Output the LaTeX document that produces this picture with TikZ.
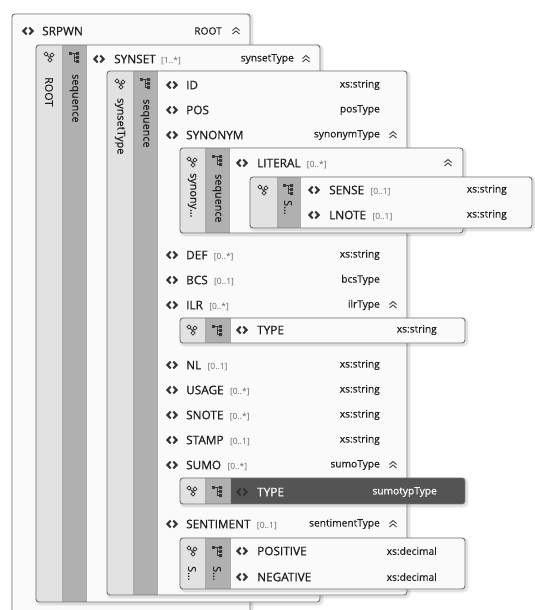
\documentclass[tikz,border=0pt]{standalone}
\usepackage{fontspec}
\setmainfont{Open Sans}
\newfontface\namefont{Open Sans}[FakeBold=0.7]
\newfontface\typefont{Open Sans}[FakeBold=0.3]
\usepackage{tikz}
\usetikzlibrary{positioning,calc}

\definecolor{frameGray}{RGB}{112,112,112}
\definecolor{paneWhite}{RGB}{250,250,250}
\definecolor{stripLight}{RGB}{226,226,226}
\definecolor{stripDark}{RGB}{176,176,176}
\definecolor{selDark}{RGB}{84,84,84}
\definecolor{inkGray}{RGB}{30,30,30}

\tikzset{
  halo/.style={
    preaction={draw=black, line width=5pt, opacity=0.04, transform canvas={xshift=1.5pt, yshift=-1.5pt}},
    preaction={draw=black, line width=2.5pt, opacity=0.08, transform canvas={xshift=1.5pt, yshift=-1.5pt}}},
  frame/.style={draw=frameGray, line width=0.9pt, rounded corners=3pt},
  elname/.style={anchor=west, inner sep=0pt, text=inkGray, font=\namefont\fontsize{11.8}{13}\selectfont},
  occur/.style={inner sep=0pt, text=black!60, font=\fontsize{8.5}{10}\selectfont},
  typename/.style={anchor=east, inner sep=0pt, text=inkGray, font=\typefont\fontsize{10.2}{12}\selectfont},
  striptext/.style={anchor=west, rotate=-90, inner sep=0pt, text=inkGray, font=\typefont\fontsize{10.8}{12}\selectfont},
  elicon/.pic={
    \draw[black!80, line width=2pt, line join=miter, pic actions]
      (-1.3,-3.4) -- (-4.6,0) -- (-1.3,3.4) (1.3,-3.4) -- (4.6,0) -- (1.3,3.4);},
  foldicon/.pic={
    \draw[black!75, line width=0.9pt]
      (-3.5,-0.5) -- (0,-3.5) -- (3.5,-0.5) (-3.5,3) -- (0,0) -- (3.5,3);},
  modelicon/.pic={
    \draw[black!75, line width=0.8pt] (-3,-3) -- (3,3) (3,-2) -- (0,1);
    \draw[black!75, line width=0.9pt, fill=white]
      (-3,-5) -- (-1,-3) -- (-3,-1) -- (-5,-3) -- cycle
      (3,-4) -- (5,-2) -- (3,0) -- (1,-2) -- cycle
      (1,1) -- (3,3) -- (1,5) -- (-1,3) -- cycle;},
  seqicon/.pic={
    \fill[black!78] (-5,-5) rectangle (-2,-2);
    \draw[black!78, line width=0.8pt] (-2,-3.5) -- (2,-3.5) (0,-3.5) -- (0,4.5)
      (0,0.5) -- (2,0.5) (0,4.5) -- (2,4.5);
    \fill[black!78] (2,-5) rectangle (5,-2) (2,-1) rectangle (5,2) (2,3) rectangle (5,6);},
}

% pane with the two grey strips: [row fill] x1 y1 x2 y2 split1 split2
\newcommand{\typepane}[7][paneWhite]{%
  \fill[halo, paneWhite, rounded corners=3pt] (#2,#3) rectangle (#4,#5);
  \begin{scope}
    \clip[rounded corners=3pt] (#2,#3) rectangle (#4,#5);
    \fill[stripLight] (#2,#3) rectangle (#6,#5);
    \fill[stripDark] (#6,#3) rectangle (#7,#5);
    \fill[#1] (#7,#3) rectangle (#4,#5);
    \draw[frameGray!60, line width=0.5pt] (#6,#3) -- (#6,#5) (#7,#3) -- (#7,#5);
  \end{scope}
  \draw[frame] (#2,#3) rectangle (#4,#5);
}

\begin{document}
\begin{tikzpicture}[x=1pt, y=-1pt]
  \useasboundingbox (0,0) rectangle (535,610);
  \clip (0,0) rectangle (535,610);

  % SRPWN element
  \fill[halo, paneWhite, rounded corners=3pt] (12,14) rectangle (250,640);
  \draw[frame] (12,14) rectangle (250,640);
  \pic at (28,31) {elicon};
  \node[elname] (srpwn) at (42,31) {SRPWN};
  \node[typename] (srpwnTy) at (222,31) {ROOT};
  \pic at (236,31) {foldicon};

  % ROOT content
  \typepane{36}{45}{320}{602}{62}{86}
  \pic at (49,57) {modelicon};
  \pic at (74,57) {seqicon};
  \node[striptext] (rootLbl) at (49,77) {ROOT};
  \node[striptext] (rootSeq) at (74,74) {sequence};
  \pic at (99,59) {elicon};
  \node[elname] (synset) at (114,59) {SYNSET};
  \node[occur, right=5pt of synset.base east, anchor=base west] (synsetOcc) {[1..*]};
  \node[typename] (synsetTy) at (294,59) {synsetType};
  \pic at (306,59) {foldicon};

  % synsetType content
  \typepane{107}{71}{407}{595}{133}{157}
  \pic at (120,84) {modelicon};
  \pic at (145,83) {seqicon};
  \node[striptext] (synTyLbl) at (120,98) {synsetType};
  \node[striptext] (synTySeq) at (145,99) {sequence};
  \foreach \y/\nm/\ty in {85/ID/xs:string, 110/POS/posType, 135/SYNONYM/synonymType,
      255/DEF/xs:string, 280/BCS/bcsType, 305/ILR/ilrType, 365/NL/xs:string,
      390/USAGE/xs:string, 415/SNOTE/xs:string, 440/STAMP/xs:string,
      465/SUMO/sumoType, 524/SENTIMENT/sentimentType} {
    \pic at (172,\y) {elicon};
    \node[elname] (\nm) at (186,\y) {\nm};
    \node[typename] (\nm-ty) at (380,\y) {\ty};
  }
  \foreach \nm/\oc in {DEF/0..*, BCS/0..1, ILR/0..*, NL/0..1, USAGE/0..*,
      SNOTE/0..*, STAMP/0..1, SUMO/0..*, SENTIMENT/0..1}
    \node[occur, right=6pt of \nm.base east, anchor=base west] (\nm-occ) {[\oc]};
  \foreach \y in {135,305,465,524}
    \pic at (393,\y) {foldicon};

  % synonymType content
  \typepane{180}{148}{463}{233}{205}{229}
  \pic at (192,162) {modelicon};
  \pic at (217,160) {seqicon};
  \node[striptext] (synoLbl) at (192,173) {synony…};
  \node[striptext] (synoSeq) at (217,174) {sequence};
  \pic at (242,163) {elicon};
  \node[elname] (literal) at (257,163) {LITERAL};
  \node[occur, right=6pt of literal.base east, anchor=base west] (literalOcc) {[0..*]};
  \pic at (448,163) {foldicon};

  % LITERAL content
  \typepane{250}{177}{532}{228}{277}{300}
  \pic at (263,190) {modelicon};
  \pic at (288,189) {seqicon};
  \node[striptext] (litSeq) at (288,200) {S…};
  \foreach \y/\nm in {190/SENSE, 215/LNOTE} {
    \pic at (314,\y) {elicon};
    \node[elname] (\nm) at (329,\y) {\nm};
    \node[occur, right=6pt of \nm.base east, anchor=base west] (\nm-occ) {[0..1]};
    \node[typename] (\nm-ty) at (507,\y) {xs:string};
  }

  % ilrType content
  \typepane{180}{318}{465}{343}{205}{230}
  \pic at (192,330) {modelicon};
  \pic at (217,330) {seqicon};
  \pic at (242,330) {elicon};
  \node[elname] (ilrtype) at (257,330) {TYPE};
  \node[typename] (ilrtypeTy) at (437,330) {xs:string};

  % sumoType content (selected)
  \typepane[selDark]{180}{478}{465}{504}{205}{230}
  \pic at (192,491) {modelicon};
  \pic at (217,491) {seqicon};
  \pic[draw=white!80, line width=0.8pt] at (242,492) {elicon};
  \node[elname, text=white] (sumotype) at (257,492) {TYPE};
  \node[typename, text=white!90] (sumotypeTy) at (437,492) {sumotypType};

  % sentimentType content
  \typepane{180}{538}{465}{589}{205}{230}
  \pic at (192,551) {modelicon};
  \pic at (217,551) {seqicon};
  \node[striptext] (sentLbl) at (192,566) {S…};
  \node[striptext] (sentSeq) at (217,566) {S…};
  \foreach \y/\nm in {551/POSITIVE, 577/NEGATIVE} {
    \pic at (242,\y) {elicon};
    \node[elname] (\nm) at (257,\y) {\nm};
    \node[typename] (\nm-ty) at (437,\y) {xs:decimal};
  }
\end{tikzpicture}
\end{document}
